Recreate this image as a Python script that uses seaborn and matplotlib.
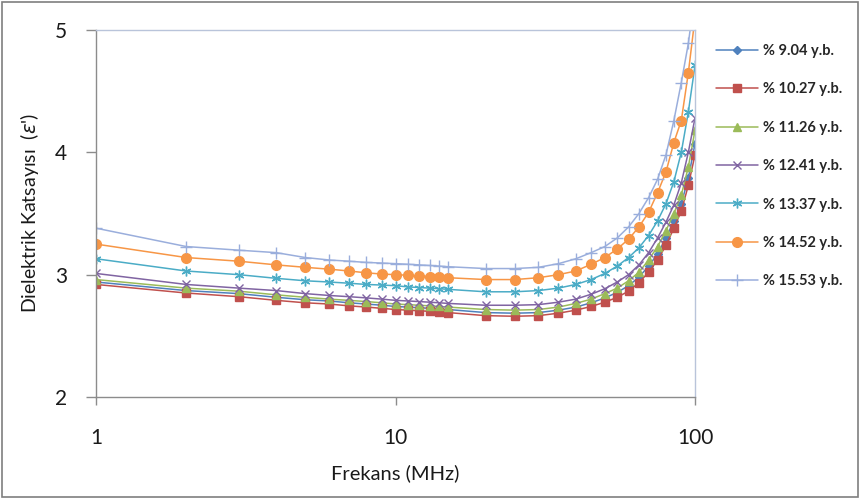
import numpy as np
import pandas as pd
import matplotlib
matplotlib.use("Agg")
import matplotlib.pyplot as plt
import matplotlib.ticker as mticker
from matplotlib.patches import Rectangle
import seaborn as sns

# ---------------- data ----------------
freq = [1, 2, 3, 4, 5, 6, 7, 8, 9, 10, 11, 12, 13, 14, 15,
        20, 25, 30, 35, 40, 45, 50, 55, 60, 65, 70, 75, 80, 85, 90, 95, 100]

s_904 = [2.94, 2.87, 2.845, 2.815, 2.795, 2.785, 2.77, 2.76, 2.75, 2.74, 2.735, 2.73, 2.725, 2.72, 2.715,
         2.69, 2.685, 2.69, 2.71, 2.735, 2.77, 2.81, 2.855, 2.91, 2.98, 3.07, 3.17, 3.30, 3.44, 3.58, 3.79, 4.07]
s_1027 = [2.92, 2.85, 2.82, 2.79, 2.77, 2.76, 2.745, 2.735, 2.725, 2.715, 2.71, 2.705, 2.70, 2.695, 2.69,
          2.665, 2.66, 2.665, 2.685, 2.71, 2.74, 2.775, 2.815, 2.865, 2.935, 3.02, 3.12, 3.24, 3.38, 3.52, 3.73, 3.98]
s_1126 = [2.96, 2.89, 2.865, 2.835, 2.815, 2.80, 2.79, 2.78, 2.77, 2.76, 2.755, 2.75, 2.745, 2.74, 2.735,
          2.715, 2.71, 2.715, 2.735, 2.765, 2.80, 2.845, 2.89, 2.95, 3.02, 3.12, 3.23, 3.36, 3.50, 3.65, 3.88, 4.18]
s_1241 = [3.01, 2.92, 2.89, 2.87, 2.845, 2.83, 2.82, 2.81, 2.80, 2.79, 2.785, 2.78, 2.775, 2.77, 2.765,
          2.75, 2.75, 2.755, 2.775, 2.80, 2.84, 2.885, 2.94, 3.00, 3.08, 3.18, 3.30, 3.43, 3.57, 3.75, 4.00, 4.28]
s_1337 = [3.13, 3.03, 3.00, 2.97, 2.95, 2.94, 2.93, 2.92, 2.915, 2.91, 2.90, 2.895, 2.89, 2.885, 2.88,
          2.86, 2.86, 2.87, 2.89, 2.92, 2.96, 3.01, 3.07, 3.14, 3.22, 3.32, 3.44, 3.58, 3.76, 4.00, 4.33, 4.71]
s_1452 = [3.25, 3.14, 3.11, 3.08, 3.06, 3.045, 3.03, 3.015, 3.005, 3.00, 2.995, 2.99, 2.985, 2.98, 2.975,
          2.96, 2.96, 2.975, 3.00, 3.03, 3.085, 3.14, 3.21, 3.29, 3.39, 3.51, 3.67, 3.84, 4.08, 4.26, 4.65, 5.10]
s_1553 = [3.38, 3.23, 3.20, 3.18, 3.14, 3.12, 3.11, 3.10, 3.095, 3.09, 3.085, 3.08, 3.075, 3.07, 3.065,
          3.05, 3.05, 3.06, 3.09, 3.13, 3.18, 3.23, 3.30, 3.39, 3.50, 3.63, 3.78, 3.98, 4.26, 4.57, 4.89, 5.30]

labels = ["% 9.04 y.b.", "% 10.27 y.b.", "% 11.26 y.b.", "% 12.41 y.b.",
          "% 13.37 y.b.", "% 14.52 y.b.", "% 15.53 y.b."]
series = [s_904, s_1027, s_1126, s_1241, s_1337, s_1452, s_1553]

x_ticks = [1, 10, 100]
y_ticks = [2, 3, 4, 5]

# ---------------- style ----------------
colors = ["#4F81BD", "#C0504D", "#9BBB59", "#8064A2", "#4BACC6", "#F79646", "#9AAEDC"]
markers = ["D", "s", "^", "x", (6, 2, 0), "o", "+"]
msizes = [4, 6, 6, 6, 7, 7, 8]

sns.set_theme(style="white")
plt.rcParams["font.family"] = ["Lato", "DejaVu Sans"]

fig = plt.figure(figsize=(8.65, 4.99), dpi=100)
ax = fig.add_axes([96 / 865, 1 - 397 / 499, (695 - 96) / 865, (397 - 30) / 499])

for lab, vals, c, m, ms in zip(labels, series, colors, markers, msizes):
    df = pd.DataFrame({"f": freq, "v": vals})
    sns.lineplot(data=df, x="f", y="v", ax=ax, color=c, marker=m, markersize=ms,
                 markeredgecolor=c, markeredgewidth=1.0, linewidth=1.1, label=lab,
                 sort=False, clip_on=True)

ax.set_xscale("log")
ax.set_xlim(1, 100)
ax.set_ylim(2, 5)
ax.set_xticks(x_ticks)
ax.xaxis.set_major_formatter(mticker.FuncFormatter(lambda v, p: f"{v:g}"))
ax.xaxis.set_minor_locator(mticker.NullLocator())
ax.set_yticks(y_ticks)

ax.tick_params(axis="x", which="major", direction="out", length=6, width=1, color="#8c8c8c",
               pad=16, labelsize=15, labelcolor="#1a1a1a", bottom=True)
ax.tick_params(axis="y", which="major", direction="out", length=7, width=1, color="#8c8c8c",
               pad=14, labelsize=15, labelcolor="#1a1a1a", left=True)

for side in ["left", "bottom"]:
    ax.spines[side].set_color("#8c8c8c")
    ax.spines[side].set_linewidth(1.0)
for side in ["top", "right"]:
    ax.spines[side].set_color("#b9c4da")
    ax.spines[side].set_linewidth(1.0)

ax.set_xlabel("Frekans (MHz)", fontsize=14.5, color="#1a1a1a", labelpad=12)
ax.set_ylabel("Dielektrik Katsayısı  ($\\varepsilon$')", fontsize=14, color="#1a1a1a", labelpad=10)

handles, labs = ax.get_legend_handles_labels()
if ax.legend_:
    ax.legend_.remove()
fig.legend(handles, labs, loc="upper left", bbox_to_anchor=(703 / 865, 1 - 31 / 499),
           frameon=False, handlelength=2.9, handletextpad=0.3,
           labelspacing=1.67, prop={"weight": "bold", "size": 10.5})

fig.patches.append(Rectangle((0.002, 0.004), 0.990, 0.992, transform=fig.transFigure,
                             fill=False, edgecolor="#7f7f7f", linewidth=1.2))

fig.savefig("out.png", dpi=100)
